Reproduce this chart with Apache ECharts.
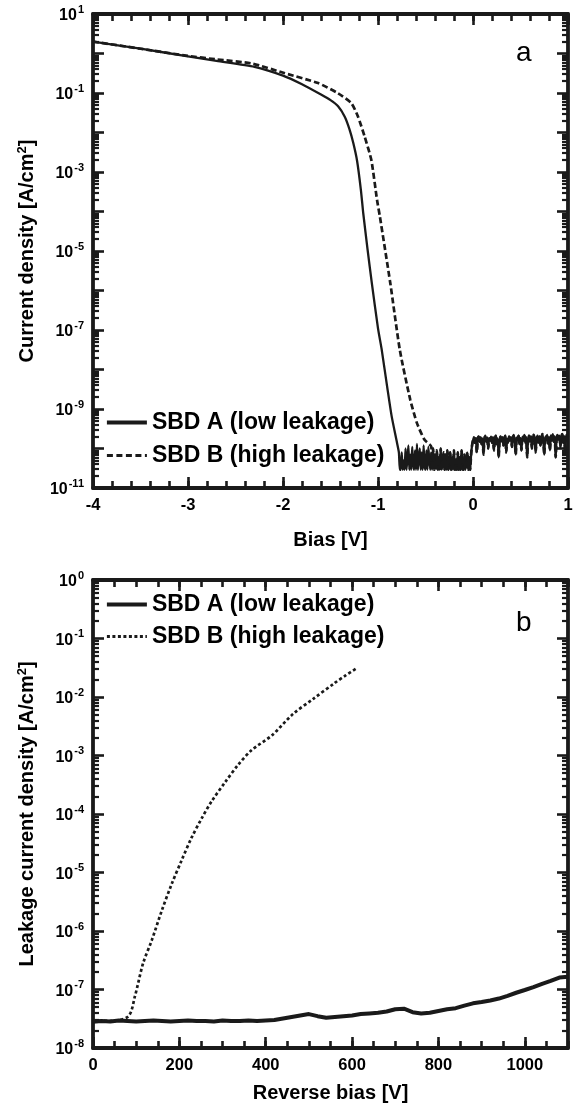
<!DOCTYPE html>
<html><head><meta charset="utf-8">
<script src="https://cdn.jsdelivr.net/npm/echarts@6/dist/echarts.min.js"></script>
<style>html,body{margin:0;padding:0;background:#fff}#c{width:576px;height:1110px}</style>
</head><body><div id="c"></div>
<script>
// ---------- Panel a : forward/reverse I-V ----------
const biasA = [-4, -3.5, -3, -2.7, -2.3, -2, -1.8, -1.6, -1.5, -1.42, -1.35, -1.3, -1.26, -1.22, -1.18, -1.155, -1.11, -1.066, -1.0, -0.961, -0.9, -0.856, -0.8, -0.78, -0.77];
const jA = [2.0, 1.32, 0.85, 0.65, 0.46, 0.275, 0.166, 0.091, 0.066, 0.046, 0.025, 0.012, 5.4e-3, 1.9e-3, 3.5e-4, 8.9e-5, 1.1e-5, 1.6e-6, 1.1e-7, 3.2e-8, 3.2e-9, 6.5e-10, 1.4e-10, 7.9e-11, 2.9e-11];
const biasB = [-4, -3.5, -3, -2.7, -2.33, -1.98, -1.63, -1.42, -1.28, -1.21, -1.14, -1.07, -1.01, -0.98, -0.87, -0.77, -0.66, -0.59, -0.51, -0.44];
const jB = [2.0, 1.32, 0.87, 0.71, 0.56, 0.316, 0.178, 0.098, 0.055, 0.025, 7.8e-3, 2.0e-3, 1.95e-4, 7.4e-5, 1.5e-6, 3.1e-8, 1.7e-9, 4.4e-10, 1.66e-10, 1.12e-10];
// measurement noise floor (units of 1e-11 A/cm2), sampled every 0.01 V
const noiseStartNeg = -0.76, noiseStartPos = 0, noiseStep = 0.01;
const noiseNegE11 = [2.9,8,2.9,5,2.9,10,2.9,6,12,2.9,7,2.9,11,4,2.9,9,2.9,13,2.9,6,
 10,2.9,8,2.9,12,3.5,2.9,9,2.9,11,5,2.9,8,2.9,10,2.9,7,3,9,2.9,
 6,2.9,10,2.9,5,8,2.9,7,2.9,9,2.9,4,8,2.9,6,2.9,9,2.9,5,2.9,
 8,2.9,6,2.9,9,3,2.9,7,2.9,5,8,2.9,6,2.9,7,12];
const noisePosE11 = [16,19,14,18,8,17,20,15,19,13,
 18,7,17,21,15,19,10,18,16,20,
 14,19,9,17,21,13,18,6,16,20,
 15,19,12,18,21,8,17,14,20,16,
 19,11,18,22,15,7,19,17,21,13,
 18,9,20,16,22,14,19,6,17,21,
 15,20,10,18,22,16,8,19,21,14,
 20,12,18,23,16,7,20,17,22,13,
 19,9,21,16,23,15,20,6,18,22,
 17,21,11,19,23,14,20,8,22,18,21];
const xTicksA = [-4, -3, -2, -1, 0, 1];
const yLabelsA = [1e-11, 1e-9, 1e-7, 1e-5, 1e-3, 1e-1, 10];

// ---------- Panel b : leakage ----------
const vA = [0,20,40,60,80,100,120,140,160,180,200,220,240,260,280,300,320,340,360,380,400,
 420,440,460,480,500,520,540,560,580,600,620,640,660,680,700,720,740,760,780,800,
 820,840,860,880,900,920,940,960,980,1000,1020,1040,1060,1080,1100];
const leakAE8 = [2.8,2.9,2.85,2.95,2.9,2.85,2.9,2.95,2.9,2.85,2.9,2.95,2.9,2.9,2.85,2.95,2.9,2.9,2.95,2.9,2.95,
 3.0,3.2,3.4,3.6,3.8,3.5,3.3,3.4,3.5,3.6,3.8,3.9,4.0,4.2,4.6,4.7,4.1,3.9,4.0,4.3,
 4.6,4.8,5.3,5.8,6.1,6.5,7.0,7.8,8.8,9.8,11,12.5,14,16,16.5];
const vB = [0, 40, 82, 97, 116, 136, 159, 182, 205, 228, 252, 275, 306, 336, 367, 414, 463, 510, 560, 585, 612];
const leakB = [2.9e-8, 2.9e-8, 3.5e-8, 7.6e-8, 2.8e-7, 6.9e-7, 2.2e-6, 6.3e-6, 1.6e-5, 3.9e-5, 8.5e-5, 1.66e-4, 3.5e-4, 6.9e-4, 1.23e-3, 2.2e-3, 5.1e-3, 9.3e-3, 1.74e-2, 2.34e-2, 3.16e-2];
const xTicksB = [0, 200, 400, 600, 800, 1000];
const yLabelsB = [1e-8, 1e-7, 1e-6, 1e-5, 1e-4, 1e-3, 1e-2, 1e-1, 1];

const nameA = 'SBD A (low leakage)', nameB = 'SBD B (high leakage)';
const FONT = 'Liberation Sans, Arial, Helvetica, sans-serif';

// ---------- build data ----------
function pairs(xs, ys, k) { return xs.map((x, i) => [x, ys[i] * (k || 1)]); }
const noiseTop = noiseNegE11.map((v, i) => [+(noiseStartNeg + i * noiseStep).toFixed(2), v * 1e-11])
  .concat(noisePosE11.map((v, i) => [+(noiseStartPos + i * noiseStep).toFixed(2), v * 1e-11]));
const topA = pairs(biasA, jA).concat(noiseTop);
const topB = pairs(biasB, jB).concat(noiseTop.filter(p => p[0] > biasB[biasB.length - 1]));
const botA = pairs(vA, leakAE8, 1e-8);
const botB = pairs(vB, leakB);

function minorLinear(majors, step, max) {
  const out = [];
  for (let v = majors[0]; v <= max + 1e-9; v += step) out.push(+v.toFixed(6));
  return out;
}
function decades(lo, hi) { const o = []; for (let e = lo; e <= hi; e++) o.push(Math.pow(10, e)); return o; }
function logMinor(lo, hi) { const o = []; for (let e = lo; e < hi; e++) for (let k = 2; k <= 9; k++) o.push(k * Math.pow(10, e)); return o; }

const supFmt = v => '{b|10}{s|' + Math.round(Math.log10(v)) + '}';
const labelRich = {
  b: { fontSize: 16, fontWeight: 'bold', fontFamily: FONT, color: '#000', lineHeight: 20, verticalAlign: 'bottom' },
  s: { fontSize: 11, fontWeight: 'bold', fontFamily: FONT, color: '#000', lineHeight: 20, verticalAlign: 'top', padding: [0, 0, 8, 1] }
};
const lineCol = '#1a1a1a';
const titleStyle = { fontSize: 20, fontWeight: 'bold', color: '#000', fontFamily: FONT };

function xAxes(g, min, max, majors, minors, name, nameGap) {
  const base = { gridIndex: g, type: 'value', min, max, splitLine: { show: false }, axisPointer: { show: false } };
  const major = pos => Object.assign({}, base, {
    position: pos,
    axisLine: { show: true, onZero: false, lineStyle: { color: lineCol, width: 3.8 } },
    axisTick: { show: true, inside: true, length: 11, customValues: majors, lineStyle: { color: lineCol, width: 2.6 } },
    axisLabel: pos === 'bottom' ? { customValues: majors, formatter: v => String(v), margin: 9, fontSize: 16.5, fontWeight: 'bold', color: '#000', fontFamily: FONT } : { show: false }
  }, pos === 'bottom' ? { name, nameLocation: 'middle', nameGap, nameTextStyle: titleStyle } : {});
  const minor = pos => Object.assign({}, base, {
    position: pos,
    axisLine: { show: false, onZero: false },
    axisTick: { show: true, inside: true, length: 7, customValues: minors, lineStyle: { color: lineCol, width: 2.6 } },
    axisLabel: { show: false }
  });
  return [major('bottom'), minor('bottom'), major('top'), minor('top')];
}
function yAxes(g, lo, hi, labels, name, nameGap) {
  const base = { gridIndex: g, type: 'log', logBase: 10, min: Math.pow(10, lo), max: Math.pow(10, hi), splitLine: { show: false }, axisPointer: { show: false } };
  const maj = decades(lo, hi), mnr = logMinor(lo, hi);
  const major = pos => Object.assign({}, base, {
    position: pos,
    axisLine: { show: true, onZero: false, lineStyle: { color: lineCol, width: 3.8 } },
    axisTick: { show: true, inside: true, length: 11, customValues: maj, lineStyle: { color: lineCol, width: 2.6 } },
    axisLabel: pos === 'left' ? { customValues: labels, formatter: supFmt, rich: labelRich, margin: 9 } : { show: false }
  }, pos === 'left' ? { name, nameLocation: 'middle', nameGap, nameRotate: 90, nameTextStyle: Object.assign({}, titleStyle, {
      rich: { s: { fontSize: 13, fontWeight: 'bold', fontFamily: FONT, color: '#000', lineHeight: 22, verticalAlign: 'top' } } }) } : {});
  const minor = pos => Object.assign({}, base, {
    position: pos,
    axisLine: { show: false, onZero: false },
    axisTick: { show: true, inside: true, length: 6, customValues: mnr, lineStyle: { color: lineCol, width: 2.2 } },
    axisLabel: { show: false }
  });
  return [major('left'), minor('left'), major('right'), minor('right')];
}

const legendText = { fontSize: 23, fontWeight: 'bold', color: '#000', fontFamily: FONT };
const legendCommon = { orient: 'vertical', left: 100, itemWidth: 40, itemHeight: 16, selectedMode: false,
  itemStyle: { opacity: 0 }, lineStyle: { width: 3.8 }, textStyle: legendText };
const option = {
  animation: false,
  backgroundColor: '#fff',
  grid: [
    { left: 93, right: 8, top: 14, height: 474 },
    { left: 93, right: 8, top: 580, height: 468 }
  ],
  title: [
    { text: 'a', left: 511, top: 34, textStyle: { fontSize: 28, fontWeight: 'normal', color: '#000', fontFamily: FONT } },
    { text: 'b', left: 511, top: 604, textStyle: { fontSize: 28, fontWeight: 'normal', color: '#000', fontFamily: FONT } }
  ],
  legend: [
    Object.assign({}, legendCommon, { top: 406, itemGap: 10,
      data: [{ name: nameA }, { name: nameB, lineStyle: { type: [6, 3.5], width: 3 } }] }),
    Object.assign({}, legendCommon, { top: 588, itemGap: 9,
      data: [{ name: nameA }, { name: nameB, lineStyle: { type: [3, 2.5], width: 3 } }] })
  ],
  xAxis: xAxes(0, -4, 1, xTicksA, minorLinear(xTicksA, 0.2, 1), 'Bias [V]', 42)
    .concat(xAxes(1, 0, 1100, xTicksB, minorLinear(xTicksB, 50, 1100), 'Reverse bias [V]', 35)),
  yAxis: yAxes(0, -11, 1, yLabelsA, 'Current density [A/cm{s|2}]', 55)
    .concat(yAxes(1, -8, 0, yLabelsB, 'Leakage current density [A/cm{s|2}]', 55)),
  series: [
    { name: nameA, type: 'line', xAxisIndex: 0, yAxisIndex: 0, data: topA, symbol: 'none', smooth: 0.2,
      lineStyle: { color: lineCol, width: 2.3 }, itemStyle: { color: lineCol } },
    { name: nameB, type: 'line', xAxisIndex: 0, yAxisIndex: 0, data: topB, symbol: 'none', smooth: 0.2,
      lineStyle: { color: lineCol, width: 2.7, type: [6, 3] }, itemStyle: { color: lineCol } },
    { name: nameA, type: 'line', xAxisIndex: 4, yAxisIndex: 4, data: botA, symbol: 'none',
      lineStyle: { color: lineCol, width: 4 }, itemStyle: { color: lineCol } },
    { name: nameB, type: 'line', xAxisIndex: 4, yAxisIndex: 4, data: botB, symbol: 'none', smooth: 0.3,
      lineStyle: { color: lineCol, width: 2.7, type: [3, 2.5] }, itemStyle: { color: lineCol } }
  ]
};
const chart = echarts.init(document.getElementById('c'), null, { renderer: 'canvas' });
chart.setOption(option);
</script></body></html>
